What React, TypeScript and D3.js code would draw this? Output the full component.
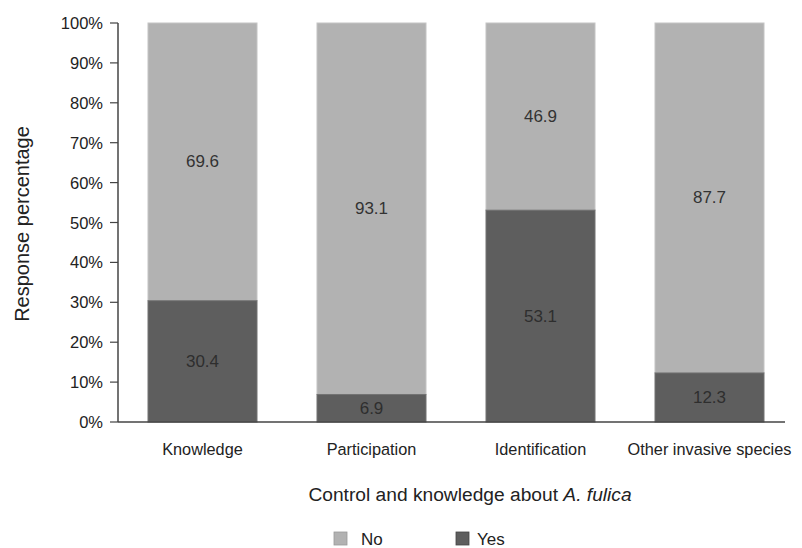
import React from "react";
import * as d3 from "d3";

const categories = ["Knowledge", "Participation", "Identification", "Other invasive species"];
const yesValues = [30.4, 6.9, 53.1, 12.3];
const noValues = [69.6, 93.1, 46.9, 87.7];
const yTicks = [0, 10, 20, 30, 40, 50, 60, 70, 80, 90, 100];
const seriesNames = ["No", "Yes"];

const W = 802;
const H = 548;
const left = 118;
const top = 23;
const bottom = 422;
const COL_NO = "#b2b2b2";
const COL_YES = "#5e5e5e";
const FONT = "'Liberation Sans', Arial, Helvetica, sans-serif";

export default function App() {
  const x = d3.scaleBand<string>().domain(categories).range([left, 794]).paddingInner(0.355).paddingOuter(0.1775);
  const y = d3.scaleLinear().domain([0, 100]).range([bottom, top]);
  const bw = x.bandwidth();
  return (
    <svg width={W} height={H} style={{ position: "absolute", left: 0, top: 0 }} fontFamily={FONT}>
      <rect width={W} height={H} fill="#fff" />
      {categories.map((c, i) => {
        const x0 = x(c)!;
        const yYes = yesValues[i];
        const yNo = noValues[i];
        const yesTop = y(yYes);
        const noTop = y(yYes + yNo);
        return (
          <g key={c}>
            <rect x={x0} y={noTop} width={bw} height={yesTop - noTop} fill={COL_NO} stroke="#c4c4c4" strokeWidth={1} />
            <rect x={x0} y={yesTop} width={bw} height={bottom - yesTop} fill={COL_YES} stroke="#737373" strokeWidth={1} />
            <text x={x0 + bw / 2} y={(noTop + yesTop) / 2} textAnchor="middle" dominantBaseline="central" fontSize={17} fill="#333">{yNo.toFixed(1)}</text>
            <text x={x0 + bw / 2} y={(yesTop + bottom) / 2} textAnchor="middle" dominantBaseline="central" fontSize={17} fill="#2e2e2e">{yYes.toFixed(1)}</text>
            <text x={x0 + bw / 2} y={449} textAnchor="middle" dominantBaseline="central" fontSize={16.3} fill="#222">{c}</text>
          </g>
        );
      })}
      <line x1={left} x2={left} y1={top} y2={bottom} stroke="#444" strokeWidth={1.5} />
      <line x1={left} x2={785} y1={bottom} y2={bottom} stroke="#444" strokeWidth={1.5} />
      {yTicks.map((t) => (
        <g key={t}>
          <line x1={left - 8} x2={left} y1={y(t)} y2={y(t)} stroke="#444" strokeWidth={1.2} />
          <text x={left - 15} y={y(t)} textAnchor="end" dominantBaseline="central" fontSize={16.5} fill="#222">{t}%</text>
        </g>
      ))}
      <text transform={`translate(22,224) rotate(-90)`} textAnchor="middle" dominantBaseline="central" fontSize={20} fill="#222">Response percentage</text>
      <text x={470} y={494} textAnchor="middle" dominantBaseline="central" fontSize={19.2} fill="#222">
        Control and knowledge about <tspan fontStyle="italic">A. fulica</tspan>
      </text>
      {seriesNames.map((s, i) => {
        const lx = 334 + i * 122;
        return (
          <g key={s}>
            <rect x={lx} y={532} width={13} height={13} fill={i === 0 ? COL_NO : COL_YES} stroke={i === 0 ? "#999" : "#444"} strokeWidth={0.8} />
            <text x={lx + 27 - i * 6} y={539} dominantBaseline="central" fontSize={17} fill="#222">{s}</text>
          </g>
        );
      })}
    </svg>
  );
}
